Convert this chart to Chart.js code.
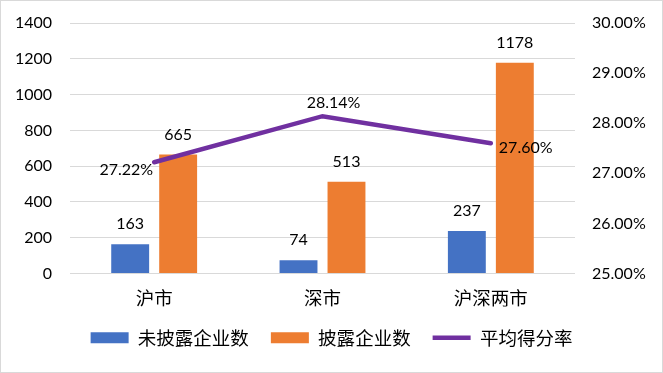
<!DOCTYPE html>
<html>
<head>
<meta charset="utf-8">
<script src="https://cdn.jsdelivr.net/npm/chart.js@4"></script>
<style>
  html, body { margin: 0; padding: 0; background: #fff; }
  #wrap { width: 663px; height: 373px; box-sizing: border-box; border: 1px solid #d9d9d9; }
  canvas { display: block; }
</style>
</head>
<body>
<div id="wrap"><canvas id="chart" width="661" height="371"></canvas></div>
<script>
const categories = ["沪市", "深市", "沪深两市"];
const undisclosed = [163, 74, 237];
const disclosed = [665, 513, 1178];
const avgScore = [27.22, 28.14, 27.60];
const lineLabelPos = ["left", "top", "right"]; // where each % label sits

const numFont = '16px Lato, "Noto Sans CJK SC", sans-serif';
const cjkFont = '"Noto Sans CJK SC", Lato, sans-serif';

// value labels above the bars and beside the line points
const valueLabels = {
  id: "valueLabels",
  afterDatasetsDraw(chart) {
    const ctx = chart.ctx;
    ctx.save();
    ctx.font = numFont;
    ctx.fillStyle = "#000";
    ctx.textBaseline = "middle";
    chart.data.datasets.forEach((ds, i) => {
      const meta = chart.getDatasetMeta(i);
      meta.data.forEach((el, j) => {
        if (ds.type === "line") {
          const txt = ds.data[j].toFixed(2) + "%";
          const pos = lineLabelPos[j];
          if (pos === "left") {
            ctx.textAlign = "right";
            ctx.fillText(txt, el.x - 1, el.y + 8);
          } else if (pos === "top") {
            ctx.textAlign = "center";
            ctx.fillText(txt, el.x + 11, el.y - 13);
          } else {
            ctx.textAlign = "left";
            ctx.fillText(txt, el.x + 8, el.y + 5);
          }
        } else {
          ctx.textAlign = "center";
          ctx.fillText(ds.data[j], el.x, el.y - 20);
        }
      });
    });
    ctx.restore();
  }
};

// fixed axis width, and don't let the tick padding push the plot down
const fixWidth = (w) => (s) => {
  s.width = w;
  s.paddingTop = 0;
  s.paddingBottom = 0;
};

new Chart(document.getElementById("chart").getContext("2d"), {
  data: {
    labels: categories,
    datasets: [
      {
        type: "line",
        label: "平均得分率",
        data: avgScore,
        yAxisID: "y1",
        borderColor: "#7030A0",
        backgroundColor: "#7030A0",
        borderWidth: 4.5,
        borderCapStyle: "round",
        pointRadius: 0,
        pointStyle: "line",
        order: 0
      },
      {
        type: "bar",
        label: "未披露企业数",
        data: undisclosed,
        backgroundColor: "#4472C4",
        pointStyle: "rect",
        categoryPercentage: 0.57,
        barPercentage: 0.79,
        order: 1
      },
      {
        type: "bar",
        label: "披露企业数",
        data: disclosed,
        backgroundColor: "#ED7D31",
        pointStyle: "rect",
        categoryPercentage: 0.57,
        barPercentage: 0.79,
        order: 1
      }
    ]
  },
  options: {
    responsive: false,
    animation: false,
    layout: { padding: { top: 22, right: 0, bottom: 15, left: 0 } },
    plugins: {
      tooltip: { enabled: false },
      legend: {
        position: "bottom",
        labels: {
          usePointStyle: true,
          pointStyleWidth: 38,
          boxHeight: 11,
          padding: 22,
          color: "#000",
          font: { family: cjkFont, size: 18.5 },
          sort: (a, b) => a.datasetIndex === 0 ? 1 : b.datasetIndex === 0 ? -1 : a.datasetIndex - b.datasetIndex
        }
      }
    },
    scales: {
      x: {
        grid: { display: false },
        border: { display: false },
        ticks: { color: "#000", font: { family: cjkFont, size: 18.5 }, padding: 5 },
        afterFit: (s) => { s.height = 33; }
      },
      y: {
        position: "left",
        min: 0,
        max: 1400,
        ticks: {
          stepSize: 200,
          color: "#000",
          font: { family: "Lato", size: 16 },
          padding: 18,
          callback: (v) => String(v)
        },
        grid: { color: "#d9d9d9", lineWidth: 1, drawTicks: false },
        border: { display: false },
        afterFit: fixWidth(69)
      },
      y1: {
        position: "right",
        min: 25,
        max: 30,
        ticks: {
          stepSize: 1,
          color: "#000",
          font: { family: "Lato", size: 16 },
          padding: 17,
          callback: (v) => v.toFixed(2) + "%"
        },
        grid: { display: false, drawTicks: false },
        border: { display: false },
        afterFit: fixWidth(87)
      }
    }
  },
  plugins: [valueLabels]
});
</script>
</body>
</html>
